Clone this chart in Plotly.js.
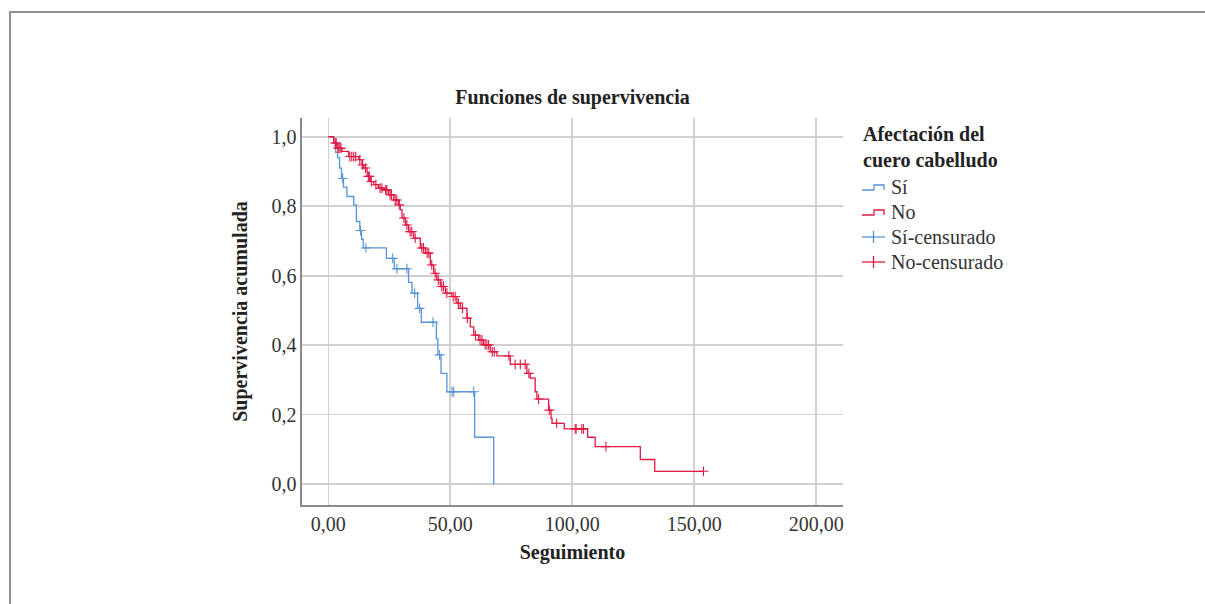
<!DOCTYPE html>
<html>
<head>
<meta charset="utf-8">
<script src="https://cdn.plot.ly/plotly-3.0.1.min.js"></script>
<style>
  html, body { margin: 0; padding: 0; background: #ffffff; overflow: hidden; }
  #frame { position: absolute; left: 9px; top: 11px; width: 1300px; height: 700px;
           border-left: 2px solid #8f8f8f; border-top: 2px solid #8f8f8f; pointer-events: none; }
  #chart { position: absolute; left: 0; top: 0; width: 1205px; height: 604px; }
</style>
</head>
<body>
<div id="chart"></div>
<div id="frame"></div>
<script>
// ---- Data (Kaplan-Meier step points) ----
const siTimes = [0, 2.2, 3.0, 3.8, 4.6, 5.4, 6.2, 7.6, 10.4, 11.5, 12.9, 13.6, 14.3, 23.8, 27.0, 32.9, 34.3, 36.6, 38.1, 44.3, 44.9, 46.2, 48.6, 60.0, 67.8];
const siSurv  = [1.0, 0.985, 0.955, 0.94, 0.91, 0.88, 0.855, 0.828, 0.804, 0.756, 0.73, 0.705, 0.68, 0.65, 0.62, 0.581, 0.55, 0.506, 0.466, 0.418, 0.372, 0.319, 0.266, 0.135, 0.0];
const siCensTimes = [5.9, 13.2, 15.4, 26.4, 28.1, 32.2, 35.4, 37.4, 42.9, 45.6, 50.7, 51.4, 59.6];
const siCensSurv  = [0.88, 0.73, 0.68, 0.65, 0.62, 0.62, 0.55, 0.506, 0.466, 0.372, 0.266, 0.266, 0.266];

const noTimes = [0, 2.2, 3.6, 5.6, 8.3, 12.4, 13.8, 14.5, 15.9, 17.2, 18.6, 20.6, 22.7, 24.7, 26.8, 28.8, 29.5, 30.2, 31.6, 32.9, 35.0, 37.7, 39.8, 41.8, 43.2, 44.5, 45.9, 48.0, 50.7, 52.7, 54.1, 56.8, 58.2, 59.6, 61.6, 63.6, 66.4, 69.1, 74.6, 81.4, 82.8, 84.8, 85.5, 90.3, 91.3, 91.7, 96.7, 106.3, 109.4, 127.9, 133.8, 153.8];
const noSurv  = [1.0, 0.982, 0.967, 0.958, 0.943, 0.934, 0.919, 0.910, 0.886, 0.871, 0.862, 0.852, 0.847, 0.833, 0.818, 0.804, 0.790, 0.766, 0.746, 0.727, 0.708, 0.680, 0.665, 0.631, 0.607, 0.588, 0.569, 0.550, 0.540, 0.521, 0.506, 0.478, 0.453, 0.429, 0.415, 0.401, 0.381, 0.369, 0.345, 0.319, 0.305, 0.266, 0.245, 0.213, 0.189, 0.175, 0.159, 0.135, 0.108, 0.071, 0.037, 0.037];
const noCensTimes = [2.8, 3.2, 3.9, 4.3, 4.8, 5.2, 8.8, 9.6, 10.4, 11.2, 12.9, 14.0, 15.2, 16.4, 16.8, 17.6, 19.5, 21.2, 22.0, 23.5, 24.0, 25.3, 25.9, 27.4, 28.1, 29.1, 31.0, 32.2, 33.5, 34.2, 35.6, 38.3, 39.0, 40.5, 41.2, 42.4, 43.8, 45.1, 46.5, 47.2, 48.6, 51.2, 52.0, 53.3, 55.0, 57.0, 60.3, 62.2, 63.0, 64.3, 65.0, 65.7, 67.2, 68.0, 74.0, 76.6, 78.7, 80.7, 82.2, 86.2, 90.6, 93.6, 101.2, 101.6, 103.9, 104.6, 113.8, 153.8];
const noCensSurv  = [0.982, 0.982, 0.967, 0.967, 0.967, 0.967, 0.943, 0.943, 0.943, 0.943, 0.934, 0.919, 0.910, 0.886, 0.886, 0.871, 0.862, 0.852, 0.852, 0.847, 0.847, 0.833, 0.833, 0.818, 0.818, 0.804, 0.766, 0.746, 0.727, 0.727, 0.708, 0.680, 0.680, 0.665, 0.665, 0.631, 0.607, 0.588, 0.569, 0.569, 0.550, 0.540, 0.540, 0.521, 0.506, 0.478, 0.429, 0.415, 0.415, 0.401, 0.401, 0.401, 0.381, 0.381, 0.369, 0.345, 0.345, 0.345, 0.319, 0.245, 0.213, 0.175, 0.159, 0.159, 0.159, 0.159, 0.108, 0.037];

const xTickVals = [0, 50, 100, 150, 200];
const xTickText = ['0,00', '50,00', '100,00', '150,00', '200,00'];
const yTickVals = [0, 0.2, 0.4, 0.6, 0.8, 1.0];
const yTickText = ['0,0', '0,2', '0,4', '0,6', '0,8', '1,0'];

const legendTitle = 'Afectación del<br>cuero cabelludo';
const legendLabels = ['Sí', 'No', 'Sí-censurado', 'No-censurado'];

// ---- Styling ----
const BLUE = '#5893d8';
const RED = '#e01a45';
const FONT = 'Liberation Serif, Times New Roman, serif';

const W = 1205, H = 604;
const M = { l: 302, r: 362, t: 118, b: 99 };
const PW = W - M.l - M.r, PH = H - M.t - M.b;
const px = x => (x - M.l) / PW;
const py = y => (H - M.b - y) / PH;

const traces = [
  { x: siTimes, y: siSurv, mode: 'lines', line: { shape: 'hv', color: BLUE, width: 1.3 }, showlegend: false, hoverinfo: 'skip' },
  { x: noTimes, y: noSurv, mode: 'lines', line: { shape: 'hv', color: RED, width: 1.3 }, showlegend: false, hoverinfo: 'skip' },
  { x: siCensTimes, y: siCensSurv, mode: 'markers', marker: { symbol: 'cross-thin', size: 7, color: BLUE, line: { color: BLUE, width: 1.1 } }, showlegend: false, hoverinfo: 'skip' },
  { x: noCensTimes, y: noCensSurv, mode: 'markers', marker: { symbol: 'cross-thin', size: 7, color: RED, line: { color: RED, width: 1.1 } }, showlegend: false, hoverinfo: 'skip' }
];

// Manual legend (step icons like the reference)
const legX0 = 862, legX1 = 885, legTextX = 889;
const legY = [187, 212, 237, 262];
const shapes = [];
const legColors = [BLUE, RED, BLUE, RED];
legY.forEach((yy, i) => {
  if (i < 2) {
    shapes.push({ type: 'path', xref: 'paper', yref: 'paper',
      path: `M${px(legX0)},${py(yy + 3)} L${px(874)},${py(yy + 3)} L${px(874)},${py(yy - 2)} L${px(884)},${py(yy - 2)} L${px(884)},${py(yy + 3)}`,
      line: { color: legColors[i], width: 1.3 } });
  } else {
    shapes.push({ type: 'line', xref: 'paper', yref: 'paper', x0: px(legX0), x1: px(legX1), y0: py(yy), y1: py(yy), line: { color: legColors[i], width: 1.3 } });
    shapes.push({ type: 'line', xref: 'paper', yref: 'paper', x0: px(873.5), x1: px(873.5), y0: py(yy - 6), y1: py(yy + 6), line: { color: legColors[i], width: 1.3 } });
  }
});

const annotations = [
  { text: '<b>' + legendTitle + '</b>', xref: 'paper', yref: 'paper', x: px(861), y: py(147), xanchor: 'left', yanchor: 'middle', align: 'left', showarrow: false, font: { family: FONT, size: 20, color: '#222' } }
];
legendLabels.forEach((t, i) => {
  annotations.push({ text: t, xref: 'paper', yref: 'paper', x: px(legTextX), y: py(legY[i]), xanchor: 'left', yanchor: 'middle', showarrow: false, font: { family: FONT, size: 20, color: '#333' } });
});

const layout = {
  width: W, height: H,
  margin: M,
  paper_bgcolor: '#ffffff', plot_bgcolor: '#ffffff',
  showlegend: false,
  title: { text: '<b>Funciones de supervivencia</b>', x: 0.5, xref: 'paper', y: 1 - 97 / H, yref: 'container', yanchor: 'middle', font: { family: FONT, size: 20, color: '#222' } },
  xaxis: {
    range: [-10.8, 211], tickvals: xTickVals, ticktext: xTickText,
    showgrid: true, gridcolor: '#d0d0d0', gridwidth: 1.6, zeroline: false,
    showline: true, linecolor: '#8a8a8a', linewidth: 1.6, ticks: '',
    tickfont: { family: FONT, size: 20, color: '#333' },
    title: { text: '<b>Seguimiento</b>', standoff: 11, font: { family: FONT, size: 20, color: '#222' } }
  },
  yaxis: {
    range: [-0.06, 1.054], tickvals: yTickVals, ticktext: yTickText,
    showgrid: true, gridcolor: '#d0d0d0', gridwidth: 1.6, zeroline: false,
    showline: true, linecolor: '#8a8a8a', linewidth: 1.6, ticks: '',
    tickfont: { family: FONT, size: 20, color: '#333' },
    title: { text: '<b>Supervivencia acumulada</b>', standoff: 18, font: { family: FONT, size: 20, color: '#222' } }
  },
  shapes: shapes,
  annotations: annotations
};

Plotly.newPlot('chart', traces, layout, { staticPlot: true, displayModeBar: false });
</script>
</body>
</html>
